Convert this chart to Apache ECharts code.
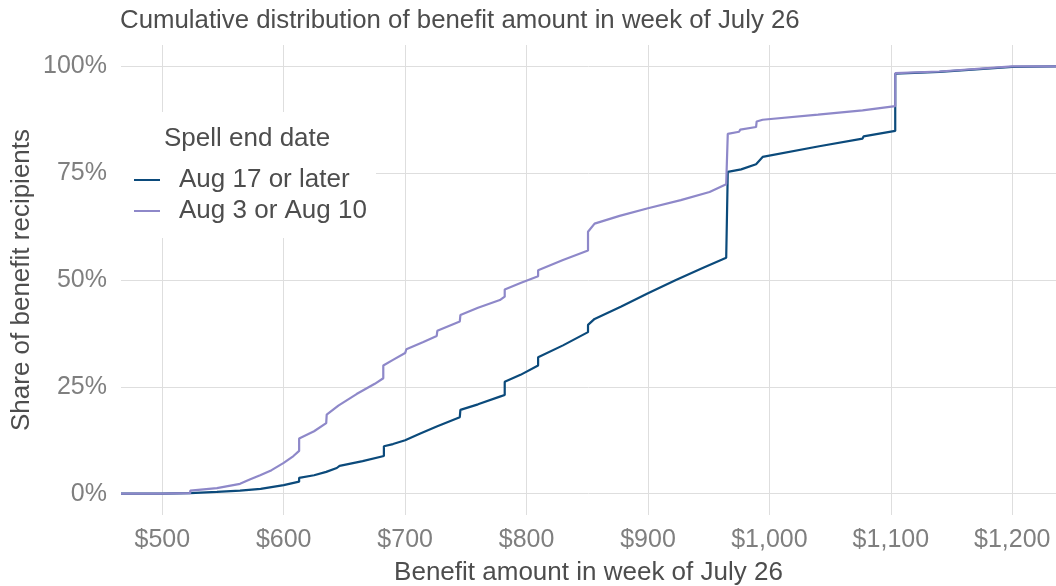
<!DOCTYPE html>
<html>
<head>
<meta charset="utf-8">
<script src="https://cdn.jsdelivr.net/npm/echarts@6/dist/echarts.min.js"></script>
<style>
html,body{margin:0;padding:0;background:#fff;}
#chart{width:1056px;height:586px;}
</style>
</head>
<body>
<div id="chart"></div>
<script>
// ---- data ----
const seriesNames = ["Aug 17 or later", "Aug 3 or Aug 10"];
const xTicks = [500, 600, 700, 800, 900, 1000, 1100, 1200];
const yTicks = [0, 25, 50, 75, 100];

// [benefit amount ($), cumulative share (%)]
const aug17Later = [
  [466,0],[500,0],[523,0.1],[523,0.3],[545,0.4],[564,0.7],[581,1.1],[600,2.0],
  [612.7,2.8],[612.7,3.7],[625,4.3],[635,5.1],[643.7,6.0],[646,6.5],[665,7.6],
  [682.5,8.8],[682.5,11.1],[690,11.6],[700,12.5],[712,14.0],[726,15.7],[745,17.9],
  [745.5,19.6],[760,20.9],[778,22.7],[782,23.1],[782,26.2],[795,27.8],[809.5,30.0],
  [809.5,31.9],[830,34.7],[850.6,37.8],[850.6,39.5],[856,40.9],[878,43.8],[900,46.9],
  [923,50.0],[945,52.8],[964.4,55.2],[965.7,55.5],[965.7,75.3],[976.7,75.9],[989,77.1],
  [994.4,78.8],[1041,81.3],[1076.7,83.1],[1077.5,83.6],[1103.6,84.9],[1103.6,98.3],
  [1140,98.7],[1200,99.9],[1236,100]
];
const aug3or10 = [
  [466,0],[500,0],[523,0.1],[523,0.7],[545,1.3],[564,2.3],[572,3.3],[580.6,4.3],
  [590,5.5],[600,7.2],[608,8.8],[612.7,10.0],[612.7,12.9],[625,14.6],[635,16.5],
  [635.4,18.5],[645,20.6],[660,23.3],[675,25.7],[682,27.0],[682,30.0],[690,31.3],
  [700,32.9],[701,33.8],[715,35.5],[726,36.9],[726.5,38.1],[745,40.3],[745.5,41.8],
  [760,43.5],[778,45.3],[782,46.1],[782,47.8],[795,49.3],[809.5,50.9],[809.5,52.3],
  [830,54.7],[850.6,56.9],[850.6,61.3],[856,63.2],[876.6,65.0],[900,66.8],[927,68.7],
  [950.7,70.6],[964.4,72.4],[965.7,72.8],[965.7,84.2],[975,84.7],[976,85.2],[989,85.8],
  [989.5,87.1],[994.4,87.5],[1040,88.7],[1076.7,89.7],[1077.5,90.1],[1103.6,90.7],
  [1103.6,98.4],[1140,98.8],[1200,100],[1236,100]
];

const FONT = "Liberation Sans, Arial, sans-serif";
const chart = echarts.init(document.getElementById('chart'), null, {renderer: 'canvas'});
chart.setOption({
  animation: false,
  backgroundColor: '#ffffff',
  title: [
    {text: 'Cumulative distribution of benefit amount in week of July 26', left: 120, top: 8, padding: 0,
     textStyle: {fontFamily: FONT, fontSize: 25.8, fontWeight: 'normal', color: '#4d4d4d'}},
    {text: 'Spell end date', left: 164, top: 126, padding: 0,
     textStyle: {fontFamily: FONT, fontSize: 26, fontWeight: 'normal', color: '#4d4d4d'}}
  ],
  graphic: [{
    type: 'rect', z: 3, silent: true,
    shape: {x: 119, y: 112, width: 257, height: 126},
    style: {fill: '#ffffff'}
  }],
  legend: {
    orient: 'vertical', left: 134, top: 167, padding: 0,
    icon: 'rect', itemWidth: 26, itemHeight: 2, itemGap: 5,
    data: seriesNames,
    textStyle: {fontFamily: FONT, fontSize: 26, color: '#4d4d4d', lineHeight: 26, padding: [0,0,0,14]}
  },
  grid: {left: 121, right: 0, top: 45, bottom: 71, containLabel: false, outerBoundsMode: 'none'},
  xAxis: {
    type: 'value', min: 466, max: 1236,
    name: 'Benefit amount in week of July 26', nameLocation: 'middle', nameGap: 45,
    nameMoveOverlap: false,
    nameTextStyle: {fontFamily: FONT, fontSize: 26, color: '#4d4d4d'},
    axisLine: {show: false}, axisTick: {show: false, customValues: xTicks},
    axisLabel: {customValues: xTicks, margin: 13, fontFamily: FONT, fontSize: 25, color: '#7f7f7f',
      formatter: v => '$' + Number(v).toLocaleString('en-US')},
    splitLine: {show: true, lineStyle: {color: '#dedede', width: 1}}
  },
  yAxis: {
    type: 'value', min: -5, max: 105,
    name: 'Share of benefit recipients', nameLocation: 'middle', nameGap: 86,
    nameMoveOverlap: false,
    nameTextStyle: {fontFamily: FONT, fontSize: 26, color: '#4d4d4d'},
    axisLine: {show: false}, axisTick: {show: false, customValues: yTicks},
    axisLabel: {customValues: yTicks, margin: 14, fontFamily: FONT, fontSize: 25, color: '#7f7f7f',
      formatter: v => v + '%'},
    splitLine: {show: true, lineStyle: {color: '#dedede', width: 1}}
  },
  series: [
    {name: seriesNames[0], type: 'line', data: aug17Later, showSymbol: false, symbol: 'none',
     itemStyle: {color: '#0b4a7b'}, lineStyle: {color: '#0b4a7b', width: 2.2}, z: 2},
    {name: seriesNames[1], type: 'line', data: aug3or10, showSymbol: false, symbol: 'none',
     itemStyle: {color: '#8e88c9'}, lineStyle: {color: '#8e88c9', width: 2.2}, z: 2}
  ]
});
</script>
</body>
</html>
